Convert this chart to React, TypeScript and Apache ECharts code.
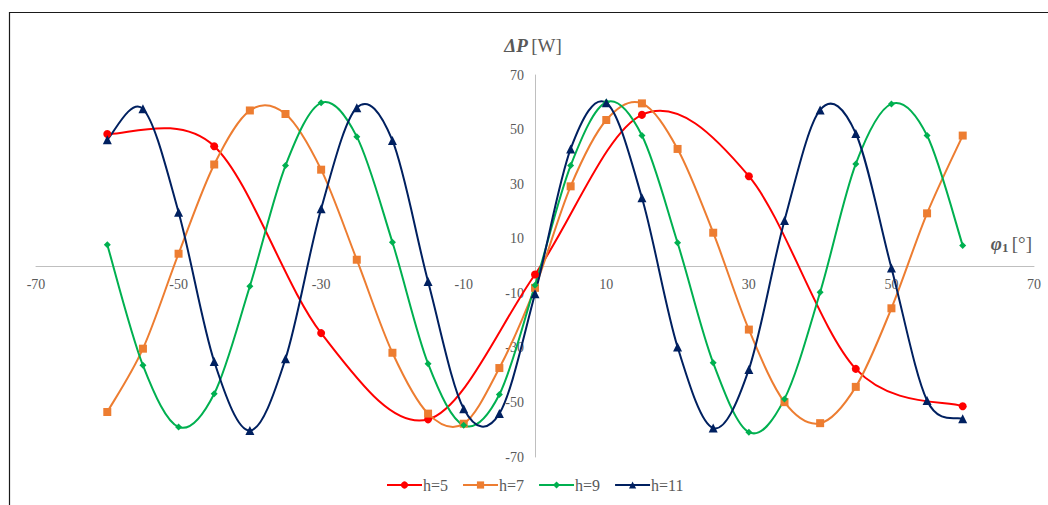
import React, { useEffect, useRef } from "react";
import * as echarts from "echarts";

const phiAll = [-60, -55, -50, -45, -40, -35, -30, -25, -20, -15, -10, -5, 0, 5, 10, 15, 20, 25, 30, 35, 40, 45, 50, 55, 60];
const phiH5 = [-60, -45, -30, -15, 0, 15, 30, 45, 60];

const h5 = [48.4, 43.9, -24.6, -56.2, -3.1, 55.4, 32.9, -37.7, -51.4];
const h7 = [-53.5, -30.3, 4.5, 37.2, 57, 55.7, 35.3, 2.3, -31.8, -54.1, -57.8, -37.4, -8, 29.2, 53.5, 59.6, 42.9, 12.2, -23.3, -49.9, -57.6, -44.3, -15.5, 19.3, 47.8];
const h9 = [7.8, -36.4, -59, -46.8, -7.4, 36.8, 59.8, 47.4, 8.7, -35.8, -58.4, -47.1, -7.1, 36.8, 60, 47.8, 8.5, -35.5, -60.9, -48.7, -9.6, 37.4, 59.4, 47.8, 7.5];
const h11 = [46.3, 57.6, 19.7, -35, -60.3, -34, 21, 58, 46, -5.7, -52.3, -54.1, -10.2, 42.9, 59.8, 25, -29.7, -59.4, -37.9, 16.7, 57.2, 48.6, -0.7, -49.3, -56];

const seriesNames = ["h=5", "h=7", "h=9", "h=11"];
const seriesColors = ["#ff0000", "#ed7d31", "#00b050", "#002060"];
const seriesSymbols = ["circle", "rect", "diamond", "triangle"];
const seriesSizes = [8, 8, 7, 9];

const pair = (xs: number[], ys: number[]) => xs.map((x, i) => [x, ys[i]]);

export default function App() {
  const ref = useRef<HTMLDivElement>(null);
  useEffect(() => {
    if (!ref.current) return;
    const chart = echarts.init(ref.current, null, { renderer: "svg" });
    const datasets = [pair(phiH5, h5), pair(phiAll, h7), pair(phiAll, h9), pair(phiAll, h11)];
    const labelFont = { fontFamily: "Liberation Serif", fontSize: 14, color: "#595959" };
    const gridH = 505 - 75 - 48;
    const gridW = 1048 - 36 - 14;

    // Excel-like Catmull-Rom smoothing drawn through the axes' coordinate system
    const curveSeries = datasets.map((pts, si) => ({
      name: seriesNames[si],
      type: "custom",
      data: pts,
      encode: { x: 0, y: 1 },
      z: 2,
      silent: true,
      renderItem: (params: any, api: any) => {
        const i = params.dataIndex;
        const n = pts.length;
        if (i >= n - 1) return { type: "group", children: [] };
        const p0 = api.coord(pts[Math.max(i - 1, 0)]);
        const p1 = api.coord(pts[i]);
        const p2 = api.coord(pts[i + 1]);
        const p3 = api.coord(pts[Math.min(i + 2, n - 1)]);
        return {
          type: "bezierCurve",
          shape: {
            x1: p1[0],
            y1: p1[1],
            x2: p2[0],
            y2: p2[1],
            cpx1: p1[0] + (p2[0] - p0[0]) / 6,
            cpy1: p1[1] + (p2[1] - p0[1]) / 6,
            cpx2: p2[0] - (p3[0] - p1[0]) / 6,
            cpy2: p2[1] - (p3[1] - p1[1]) / 6,
          },
          style: { stroke: seriesColors[si], lineWidth: 2, fill: "none" },
        };
      },
    }));

    const markerSeries = datasets.map((pts, si) => ({
      name: seriesNames[si],
      type: "line",
      data: pts,
      symbol: seriesSymbols[si],
      symbolSize: seriesSizes[si],
      showAllSymbol: true,
      lineStyle: { color: seriesColors[si], width: 2, opacity: 0 },
      itemStyle: { color: seriesColors[si] },
      z: 3 + si,
    }));

    chart.setOption({
      animation: false,
      backgroundColor: "#ffffff",
      grid: { left: 36, right: 14, top: 75, bottom: 48, containLabel: false },
      xAxis: {
        type: "value",
        min: -70,
        max: 70,
        interval: 20,
        position: "bottom",
        offset: -gridH / 2,
        axisLine: { onZero: false, lineStyle: { color: "#bfbfbf", width: 1 } },
        axisTick: { show: false },
        splitLine: { show: false },
        axisLabel: { ...labelFont, margin: 11 },
      },
      yAxis: {
        type: "value",
        min: -70,
        max: 70,
        interval: 20,
        position: "left",
        offset: -gridW / 2,
        axisLine: { show: true, onZero: false, lineStyle: { color: "#bfbfbf", width: 1 } },
        axisTick: { show: false },
        splitLine: { show: false },
        axisLabel: { ...labelFont, margin: 11 },
      },
      legend: {
        bottom: 7,
        left: 381,
        itemWidth: 35,
        itemHeight: 9,
        itemGap: 14,
        textStyle: { fontFamily: "Liberation Serif", fontSize: 16, color: "#595959", padding: [0, 0, 0, -4] },
        lineStyle: { opacity: 1, width: 2 },
        data: seriesNames,
      },
      graphic: [
        {
          type: "rect",
          z: -10,
          shape: { x: 9.5, y: 12.5, width: 1200, height: 700 },
          style: { fill: "none", stroke: "#1a1a1a", lineWidth: 1.2 },
          silent: true,
        },
        {
          type: "text",
          x: 533,
          y: 45,
          style: {
            text: "{a|ΔP} {b|[W]}",
            align: "center",
            verticalAlign: "middle",
            rich: {
              a: { fontFamily: "Liberation Serif", fontSize: 19, fontWeight: "bold", fontStyle: "italic", fill: "#595959" },
              b: { fontFamily: "Liberation Serif", fontSize: 19, fill: "#595959" },
            },
          },
        },
        {
          type: "text",
          x: 1032,
          y: 243,
          style: {
            text: "{a|φ}{s|1} {b|[°]}",
            align: "right",
            verticalAlign: "middle",
            rich: {
              a: { fontFamily: "Liberation Serif", fontSize: 19, fontWeight: "bold", fontStyle: "italic", fill: "#595959" },
              s: { fontFamily: "Liberation Serif", fontSize: 13, fontWeight: "bold", fill: "#595959", padding: [8, 0, 0, 0] },
              b: { fontFamily: "Liberation Serif", fontSize: 19, fill: "#595959" },
            },
          },
        },
      ],
      series: [...markerSeries, ...curveSeries],
    });
    return () => chart.dispose();
  }, []);
  return <div ref={ref} style={{ position: "fixed", left: 0, top: 0, width: 1048, height: 505 }} />;
}
